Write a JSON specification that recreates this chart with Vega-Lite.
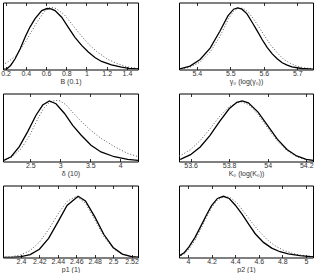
{
  "$schema": "https://vega.github.io/schema/vega-lite/v6.json",
  "padding": {"left": 0, "top": 1.5, "right": 2, "bottom": 0},
  "columns": 2,
  "spacing": {"row": 24, "column": 41},
  "bounds": "flush",
  "config": {
    "view": {"stroke": "black", "strokeWidth": 1},
    "axis": {"grid": false, "domain": false, "tickSize": -3, "tickColor": "black", "tickWidth": 0.8, "format": "~g",
      "labelFontSize": 7, "labelFont": "Liberation Sans", "labelColor": "#333", "labelPadding": 3,
      "titleFont": "Liberation Sans", "titleFontSize": 7, "titleFontWeight": "normal", "titleColor": "#333", "titlePadding": 1, "labelFlush": false, "labelOverlap": false}
  },
  "datasets": {
    "a": [
      {"x": 0.17, "v": 0.003, "s": "post"}, {"x": 0.213, "v": 0.01, "s": "post"}, {"x": 0.25, "v": 0.06, "s": "post"}, {"x": 0.295, "v": 0.16, "s": "post"}, {"x": 0.345, "v": 0.31, "s": "post"}, {"x": 0.393, "v": 0.48, "s": "post"}, {"x": 0.44, "v": 0.63, "s": "post"}, {"x": 0.492, "v": 0.76, "s": "post"}, {"x": 0.558, "v": 0.88, "s": "post"}, {"x": 0.61, "v": 0.91, "s": "post"}, {"x": 0.65, "v": 0.905, "s": "post"}, {"x": 0.689, "v": 0.88, "s": "post"}, {"x": 0.755, "v": 0.78, "s": "post"}, {"x": 0.82, "v": 0.63, "s": "post"}, {"x": 0.886, "v": 0.48, "s": "post"}, {"x": 0.952, "v": 0.36, "s": "post"}, {"x": 1.018, "v": 0.26, "s": "post"}, {"x": 1.083, "v": 0.18, "s": "post"}, {"x": 1.149, "v": 0.12, "s": "post"}, {"x": 1.247, "v": 0.07, "s": "post"}, {"x": 1.346, "v": 0.035, "s": "post"}, {"x": 1.42, "v": 0.018, "s": "post"}, {"x": 1.51, "v": 0.008, "s": "post"},
      {"x": 0.17, "v": 0.07, "s": "prior"}, {"x": 0.21, "v": 0.1, "s": "prior"}, {"x": 0.3, "v": 0.2, "s": "prior"}, {"x": 0.4, "v": 0.42, "s": "prior"}, {"x": 0.5, "v": 0.68, "s": "prior"}, {"x": 0.58, "v": 0.86, "s": "prior"}, {"x": 0.64, "v": 0.93, "s": "prior"}, {"x": 0.7, "v": 0.91, "s": "prior"}, {"x": 0.78, "v": 0.82, "s": "prior"}, {"x": 0.86, "v": 0.67, "s": "prior"}, {"x": 0.95, "v": 0.5, "s": "prior"}, {"x": 1.02, "v": 0.38, "s": "prior"}, {"x": 1.1, "v": 0.27, "s": "prior"}, {"x": 1.2, "v": 0.16, "s": "prior"}, {"x": 1.3, "v": 0.09, "s": "prior"}, {"x": 1.4, "v": 0.04, "s": "prior"}, {"x": 1.51, "v": 0.015, "s": "prior"}
    ],
    "b": [
      {"x": 5.345, "v": 0.006, "s": "post"}, {"x": 5.35, "v": 0.01, "s": "post"}, {"x": 5.38, "v": 0.05, "s": "post"}, {"x": 5.41, "v": 0.15, "s": "post"}, {"x": 5.44, "v": 0.32, "s": "post"}, {"x": 5.469, "v": 0.57, "s": "post"}, {"x": 5.493, "v": 0.8, "s": "post"}, {"x": 5.51, "v": 0.9, "s": "post"}, {"x": 5.522, "v": 0.92, "s": "post"}, {"x": 5.535, "v": 0.9, "s": "post"}, {"x": 5.55, "v": 0.83, "s": "post"}, {"x": 5.567, "v": 0.69, "s": "post"}, {"x": 5.58, "v": 0.58, "s": "post"}, {"x": 5.596, "v": 0.44, "s": "post"}, {"x": 5.61, "v": 0.33, "s": "post"}, {"x": 5.626, "v": 0.23, "s": "post"}, {"x": 5.64, "v": 0.16, "s": "post"}, {"x": 5.655, "v": 0.1, "s": "post"}, {"x": 5.67, "v": 0.065, "s": "post"}, {"x": 5.684, "v": 0.04, "s": "post"}, {"x": 5.713, "v": 0.015, "s": "post"}, {"x": 5.75, "v": 0.005, "s": "post"},
      {"x": 5.345, "v": 0.004, "s": "prior"}, {"x": 5.35, "v": 0.005, "s": "prior"}, {"x": 5.38, "v": 0.035, "s": "prior"}, {"x": 5.41, "v": 0.11, "s": "prior"}, {"x": 5.44, "v": 0.26, "s": "prior"}, {"x": 5.47, "v": 0.5, "s": "prior"}, {"x": 5.495, "v": 0.76, "s": "prior"}, {"x": 5.51, "v": 0.87, "s": "prior"}, {"x": 5.525, "v": 0.92, "s": "prior"}, {"x": 5.54, "v": 0.91, "s": "prior"}, {"x": 5.555, "v": 0.85, "s": "prior"}, {"x": 5.57, "v": 0.75, "s": "prior"}, {"x": 5.585, "v": 0.64, "s": "prior"}, {"x": 5.6, "v": 0.52, "s": "prior"}, {"x": 5.62, "v": 0.37, "s": "prior"}, {"x": 5.64, "v": 0.25, "s": "prior"}, {"x": 5.66, "v": 0.15, "s": "prior"}, {"x": 5.68, "v": 0.09, "s": "prior"}, {"x": 5.7, "v": 0.05, "s": "prior"}, {"x": 5.72, "v": 0.025, "s": "prior"}, {"x": 5.75, "v": 0.01, "s": "prior"}
    ],
    "c": [
      {"x": 2.04, "v": 0.013, "s": "post"}, {"x": 2.067, "v": 0.02, "s": "post"}, {"x": 2.18, "v": 0.07, "s": "post"}, {"x": 2.317, "v": 0.22, "s": "post"}, {"x": 2.457, "v": 0.44, "s": "post"}, {"x": 2.595, "v": 0.68, "s": "post"}, {"x": 2.707, "v": 0.83, "s": "post"}, {"x": 2.817, "v": 0.89, "s": "post"}, {"x": 2.928, "v": 0.85, "s": "post"}, {"x": 3.067, "v": 0.71, "s": "post"}, {"x": 3.207, "v": 0.53, "s": "post"}, {"x": 3.345, "v": 0.39, "s": "post"}, {"x": 3.512, "v": 0.24, "s": "post"}, {"x": 3.678, "v": 0.14, "s": "post"}, {"x": 3.9, "v": 0.07, "s": "post"}, {"x": 4.123, "v": 0.03, "s": "post"}, {"x": 4.3, "v": 0.015, "s": "post"},
      {"x": 2.04, "v": 0.013, "s": "prior"}, {"x": 2.2, "v": 0.07, "s": "prior"}, {"x": 2.35, "v": 0.19, "s": "prior"}, {"x": 2.5, "v": 0.4, "s": "prior"}, {"x": 2.62, "v": 0.62, "s": "prior"}, {"x": 2.72, "v": 0.78, "s": "prior"}, {"x": 2.82, "v": 0.87, "s": "prior"}, {"x": 2.92, "v": 0.9, "s": "prior"}, {"x": 3.0, "v": 0.89, "s": "prior"}, {"x": 3.1, "v": 0.83, "s": "prior"}, {"x": 3.23, "v": 0.7, "s": "prior"}, {"x": 3.37, "v": 0.57, "s": "prior"}, {"x": 3.52, "v": 0.45, "s": "prior"}, {"x": 3.68, "v": 0.34, "s": "prior"}, {"x": 3.9, "v": 0.22, "s": "prior"}, {"x": 4.12, "v": 0.12, "s": "prior"}, {"x": 4.3, "v": 0.07, "s": "prior"}
    ],
    "d": [
      {"x": 53.54, "v": 0.03, "s": "post"}, {"x": 53.55, "v": 0.035, "s": "post"}, {"x": 53.6, "v": 0.1, "s": "post"}, {"x": 53.65, "v": 0.213, "s": "post"}, {"x": 53.7, "v": 0.381, "s": "post"}, {"x": 53.75, "v": 0.586, "s": "post"}, {"x": 53.8, "v": 0.775, "s": "post"}, {"x": 53.84, "v": 0.87, "s": "post"}, {"x": 53.868, "v": 0.89, "s": "post"}, {"x": 53.9, "v": 0.863, "s": "post"}, {"x": 53.95, "v": 0.727, "s": "post"}, {"x": 54.0, "v": 0.527, "s": "post"}, {"x": 54.05, "v": 0.329, "s": "post"}, {"x": 54.1, "v": 0.177, "s": "post"}, {"x": 54.15, "v": 0.082, "s": "post"}, {"x": 54.2, "v": 0.032, "s": "post"}, {"x": 54.24, "v": 0.014, "s": "post"},
      {"x": 53.54, "v": 0.08, "s": "prior"}, {"x": 53.55, "v": 0.09, "s": "prior"}, {"x": 53.6, "v": 0.176, "s": "prior"}, {"x": 53.65, "v": 0.308, "s": "prior"}, {"x": 53.7, "v": 0.479, "s": "prior"}, {"x": 53.75, "v": 0.66, "s": "prior"}, {"x": 53.8, "v": 0.808, "s": "prior"}, {"x": 53.86, "v": 0.88, "s": "prior"}, {"x": 53.9, "v": 0.839, "s": "prior"}, {"x": 53.95, "v": 0.692, "s": "prior"}, {"x": 54.0, "v": 0.493, "s": "prior"}, {"x": 54.05, "v": 0.302, "s": "prior"}, {"x": 54.1, "v": 0.16, "s": "prior"}, {"x": 54.15, "v": 0.073, "s": "prior"}, {"x": 54.2, "v": 0.029, "s": "prior"}, {"x": 54.24, "v": 0.013, "s": "prior"}
    ],
    "e": [
      {"x": 2.38, "v": 0.001, "s": "post"}, {"x": 2.39, "v": 0.003, "s": "post"}, {"x": 2.4, "v": 0.011, "s": "post"}, {"x": 2.41, "v": 0.04, "s": "post"}, {"x": 2.42, "v": 0.115, "s": "post"}, {"x": 2.43, "v": 0.266, "s": "post"}, {"x": 2.44, "v": 0.491, "s": "post"}, {"x": 2.45, "v": 0.722, "s": "post"}, {"x": 2.462, "v": 0.85, "s": "post"}, {"x": 2.47, "v": 0.785, "s": "post"}, {"x": 2.48, "v": 0.567, "s": "post"}, {"x": 2.49, "v": 0.319, "s": "post"}, {"x": 2.5, "v": 0.14, "s": "post"}, {"x": 2.51, "v": 0.048, "s": "post"}, {"x": 2.52, "v": 0.013, "s": "post"}, {"x": 2.528, "v": 0.004, "s": "post"},
      {"x": 2.38, "v": 0.004, "s": "prior"}, {"x": 2.39, "v": 0.012, "s": "prior"}, {"x": 2.4, "v": 0.037, "s": "prior"}, {"x": 2.41, "v": 0.097, "s": "prior"}, {"x": 2.42, "v": 0.212, "s": "prior"}, {"x": 2.43, "v": 0.389, "s": "prior"}, {"x": 2.44, "v": 0.601, "s": "prior"}, {"x": 2.45, "v": 0.779, "s": "prior"}, {"x": 2.46, "v": 0.85, "s": "prior"}, {"x": 2.47, "v": 0.755, "s": "prior"}, {"x": 2.48, "v": 0.528, "s": "prior"}, {"x": 2.49, "v": 0.291, "s": "prior"}, {"x": 2.5, "v": 0.127, "s": "prior"}, {"x": 2.51, "v": 0.043, "s": "prior"}, {"x": 2.52, "v": 0.012, "s": "prior"}, {"x": 2.528, "v": 0.004, "s": "prior"}
    ],
    "f": [
      {"x": 3.92, "v": 0.015, "s": "post"}, {"x": 3.97, "v": 0.07, "s": "post"}, {"x": 4.01, "v": 0.15, "s": "post"}, {"x": 4.06, "v": 0.28, "s": "post"}, {"x": 4.12, "v": 0.47, "s": "post"}, {"x": 4.16, "v": 0.6, "s": "post"}, {"x": 4.2, "v": 0.72, "s": "post"}, {"x": 4.25, "v": 0.82, "s": "post"}, {"x": 4.3, "v": 0.85, "s": "post"}, {"x": 4.35, "v": 0.82, "s": "post"}, {"x": 4.4, "v": 0.73, "s": "post"}, {"x": 4.46, "v": 0.6, "s": "post"}, {"x": 4.52, "v": 0.45, "s": "post"}, {"x": 4.57, "v": 0.33, "s": "post"}, {"x": 4.64, "v": 0.21, "s": "post"}, {"x": 4.71, "v": 0.13, "s": "post"}, {"x": 4.78, "v": 0.08, "s": "post"}, {"x": 4.85, "v": 0.05, "s": "post"}, {"x": 4.95, "v": 0.025, "s": "post"}, {"x": 5.06, "v": 0.008, "s": "post"},
      {"x": 3.92, "v": 0.008, "s": "prior"}, {"x": 3.97, "v": 0.05, "s": "prior"}, {"x": 4.01, "v": 0.12, "s": "prior"}, {"x": 4.06, "v": 0.24, "s": "prior"}, {"x": 4.12, "v": 0.43, "s": "prior"}, {"x": 4.16, "v": 0.57, "s": "prior"}, {"x": 4.2, "v": 0.69, "s": "prior"}, {"x": 4.25, "v": 0.8, "s": "prior"}, {"x": 4.31, "v": 0.85, "s": "prior"}, {"x": 4.36, "v": 0.83, "s": "prior"}, {"x": 4.42, "v": 0.75, "s": "prior"}, {"x": 4.48, "v": 0.62, "s": "prior"}, {"x": 4.54, "v": 0.49, "s": "prior"}, {"x": 4.6, "v": 0.37, "s": "prior"}, {"x": 4.67, "v": 0.25, "s": "prior"}, {"x": 4.74, "v": 0.16, "s": "prior"}, {"x": 4.81, "v": 0.1, "s": "prior"}, {"x": 4.88, "v": 0.06, "s": "prior"}, {"x": 4.96, "v": 0.03, "s": "prior"}, {"x": 5.06, "v": 0.012, "s": "prior"}
    ]
  },
  "concat": [
    {"width": 135, "height": 67, "data": {"name": "a"},
     "layer": [
      {"transform": [{"filter": "datum.s == 'prior'"}], "mark": {"type": "line", "color": "#555", "strokeWidth": 1, "strokeDash": [1, 2], "clip": true},
       "encoding": {"x": {"field": "x", "type": "quantitative", "scale": {"domain": [0.175, 1.509], "nice": false, "zero": false}, "axis": {"orient": "top", "labels": false, "title": null, "values": [0.2, 0.4, 0.6, 0.8, 1, 1.2, 1.4]}},
                    "y": {"field": "v", "type": "quantitative", "scale": {"domain": [0, 1]}, "axis": null}}},
      {"transform": [{"filter": "datum.s == 'post'"}], "mark": {"type": "line", "color": "black", "strokeWidth": 1.3, "clip": true},
       "encoding": {"x": {"field": "x", "type": "quantitative", "scale": {"domain": [0.175, 1.509], "nice": false, "zero": false}, "axis": {"orient": "bottom", "title": "B (0.1)", "values": [0.2, 0.4, 0.6, 0.8, 1, 1.2, 1.4]}},
                    "y": {"field": "v", "type": "quantitative", "scale": {"domain": [0, 1]}, "axis": null}}}
     ]},
    {"width": 134, "height": 67, "data": {"name": "b"},
     "layer": [
      {"transform": [{"filter": "datum.s == 'prior'"}], "mark": {"type": "line", "color": "#555", "strokeWidth": 1, "strokeDash": [1, 2], "clip": true},
       "encoding": {"x": {"field": "x", "type": "quantitative", "scale": {"domain": [5.347, 5.747], "nice": false, "zero": false}, "axis": {"orient": "top", "labels": false, "title": null, "values": [5.4, 5.5, 5.6, 5.7]}},
                    "y": {"field": "v", "type": "quantitative", "scale": {"domain": [0, 1]}, "axis": null}}},
      {"transform": [{"filter": "datum.s == 'post'"}], "mark": {"type": "line", "color": "black", "strokeWidth": 1.3, "clip": true},
       "encoding": {"x": {"field": "x", "type": "quantitative", "scale": {"domain": [5.347, 5.747], "nice": false, "zero": false}, "axis": {"orient": "bottom", "title": "γ₀ (log(γ₀))", "values": [5.4, 5.5, 5.6, 5.7]}},
                    "y": {"field": "v", "type": "quantitative", "scale": {"domain": [0, 1]}, "axis": null}}}
     ]},
    {"width": 135, "height": 68, "data": {"name": "c"},
     "layer": [
      {"transform": [{"filter": "datum.s == 'prior'"}], "mark": {"type": "line", "color": "#555", "strokeWidth": 1, "strokeDash": [1, 2], "clip": true},
       "encoding": {"x": {"field": "x", "type": "quantitative", "scale": {"domain": [2.045, 4.295], "nice": false, "zero": false}, "axis": {"orient": "top", "labels": false, "title": null, "values": [2.5, 3, 3.5, 4]}},
                    "y": {"field": "v", "type": "quantitative", "scale": {"domain": [0, 1]}, "axis": null}}},
      {"transform": [{"filter": "datum.s == 'post'"}], "mark": {"type": "line", "color": "black", "strokeWidth": 1.3, "clip": true},
       "encoding": {"x": {"field": "x", "type": "quantitative", "scale": {"domain": [2.045, 4.295], "nice": false, "zero": false}, "axis": {"orient": "bottom", "title": "δ (10)", "values": [2.5, 3, 3.5, 4]}},
                    "y": {"field": "v", "type": "quantitative", "scale": {"domain": [0, 1]}, "axis": null}}}
     ]},
    {"width": 134, "height": 68, "data": {"name": "d"},
     "layer": [
      {"transform": [{"filter": "datum.s == 'prior'"}], "mark": {"type": "line", "color": "#555", "strokeWidth": 1, "strokeDash": [1, 2], "clip": true},
       "encoding": {"x": {"field": "x", "type": "quantitative", "scale": {"domain": [53.54, 54.235], "nice": false, "zero": false}, "axis": {"orient": "top", "labels": false, "title": null, "values": [53.6, 53.8, 54, 54.2]}},
                    "y": {"field": "v", "type": "quantitative", "scale": {"domain": [0, 1]}, "axis": null}}},
      {"transform": [{"filter": "datum.s == 'post'"}], "mark": {"type": "line", "color": "black", "strokeWidth": 1.3, "clip": true},
       "encoding": {"x": {"field": "x", "type": "quantitative", "scale": {"domain": [53.54, 54.235], "nice": false, "zero": false}, "axis": {"orient": "bottom", "title": "K₀ (log(K₀))", "values": [53.6, 53.8, 54, 54.2]}},
                    "y": {"field": "v", "type": "quantitative", "scale": {"domain": [0, 1]}, "axis": null}}}
     ]},
    {"width": 135, "height": 72, "data": {"name": "e"},
     "layer": [
      {"transform": [{"filter": "datum.s == 'prior'"}], "mark": {"type": "line", "color": "#555", "strokeWidth": 1, "strokeDash": [1, 2], "clip": true},
       "encoding": {"x": {"field": "x", "type": "quantitative", "scale": {"domain": [2.3805, 2.527], "nice": false, "zero": false}, "axis": {"orient": "top", "labels": false, "title": null, "values": [2.4, 2.42, 2.44, 2.46, 2.48, 2.5, 2.52]}},
                    "y": {"field": "v", "type": "quantitative", "scale": {"domain": [0, 1]}, "axis": null}}},
      {"transform": [{"filter": "datum.s == 'post'"}], "mark": {"type": "line", "color": "black", "strokeWidth": 1.3, "clip": true},
       "encoding": {"x": {"field": "x", "type": "quantitative", "scale": {"domain": [2.3805, 2.527], "nice": false, "zero": false}, "axis": {"orient": "bottom", "title": "p1 (1)", "values": [2.4, 2.42, 2.44, 2.46, 2.48, 2.5, 2.52]}},
                    "y": {"field": "v", "type": "quantitative", "scale": {"domain": [0, 1]}, "axis": null}}}
     ]},
    {"width": 134, "height": 72, "data": {"name": "f"},
     "layer": [
      {"transform": [{"filter": "datum.s == 'prior'"}], "mark": {"type": "line", "color": "#555", "strokeWidth": 1, "strokeDash": [1, 2], "clip": true},
       "encoding": {"x": {"field": "x", "type": "quantitative", "scale": {"domain": [3.924, 5.06], "nice": false, "zero": false}, "axis": {"orient": "top", "labels": false, "title": null, "values": [4, 4.2, 4.4, 4.6, 4.8, 5]}},
                    "y": {"field": "v", "type": "quantitative", "scale": {"domain": [0, 1]}, "axis": null}}},
      {"transform": [{"filter": "datum.s == 'post'"}], "mark": {"type": "line", "color": "black", "strokeWidth": 1.3, "clip": true},
       "encoding": {"x": {"field": "x", "type": "quantitative", "scale": {"domain": [3.924, 5.06], "nice": false, "zero": false}, "axis": {"orient": "bottom", "title": "p2 (1)", "values": [4, 4.2, 4.4, 4.6, 4.8, 5]}},
                    "y": {"field": "v", "type": "quantitative", "scale": {"domain": [0, 1]}, "axis": null}}}
     ]}
  ]
}
